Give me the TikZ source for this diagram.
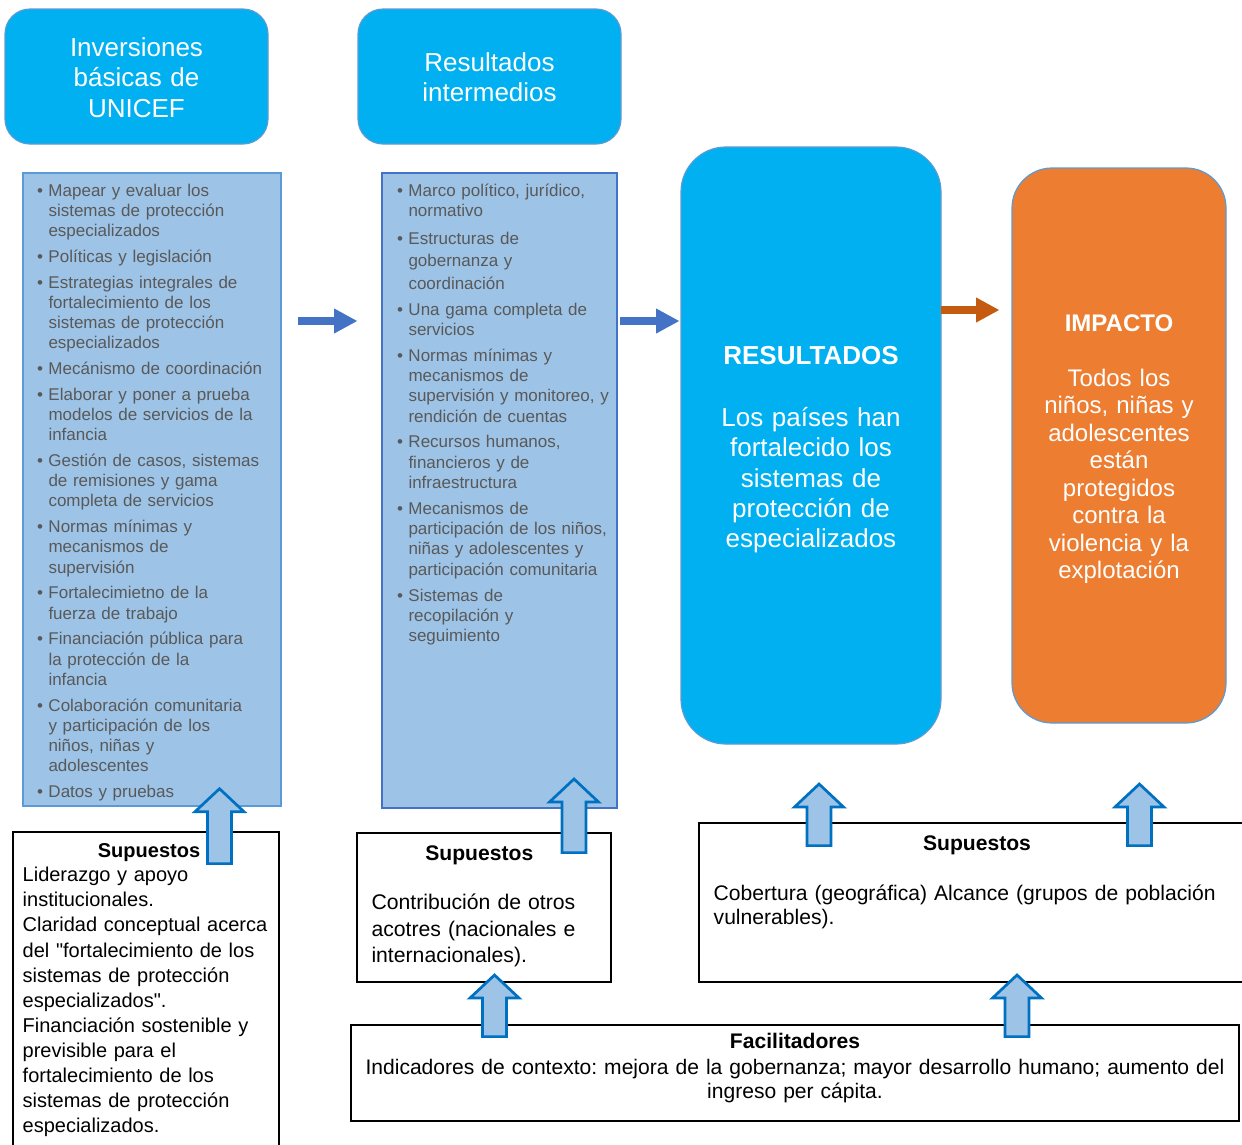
\documentclass[tikz,border=0pt]{standalone}
\usepackage{fontspec}
\setmainfont{Liberation Sans}[Ligatures=TeXOff]
\usetikzlibrary{arrows.meta,fit}
\definecolor{cyanbox}{HTML}{00B0F0}
\definecolor{boxedge}{HTML}{5B9BD5}
\definecolor{listfill}{HTML}{9DC3E6}
\definecolor{listedgeA}{HTML}{5B9BD5}
\definecolor{listedgeB}{HTML}{4472C4}
\definecolor{orangebox}{HTML}{ED7D31}
\definecolor{arrowblue}{HTML}{4472C4}
\definecolor{arroworange}{HTML}{C55A11}
\definecolor{blockedge}{HTML}{0070C0}
\definecolor{graytext}{HTML}{595959}
\frenchspacing
\newcommand\fs[2]{\fontsize{#1}{#2}\selectfont}
\newcommand\bitem[1]{\hangindent=11.5pt\hangafter=1\noindent\makebox[11.5pt][l]{\textbullet}#1\par}
\newcommand\blockarrow[3]{%
  \draw[blockarr] (#1,#2) -- (#1+24.5,#2+23) -- (#1+12,#2+23) -- (#1+12,#3)
    -- (#1-12,#3) -- (#1-12,#2+23) -- (#1-24.5,#2+23) -- cycle;}
\begin{document}
\begin{tikzpicture}[x=1pt,y=-1pt,
  cbox/.style={draw=boxedge, line width=1.2pt, fill=cyanbox, rounded corners=#1, inner sep=0pt},
  obox/.style={draw=boxedge, line width=1.2pt, fill=orangebox, rounded corners=#1, inner sep=0pt},
  listbox/.style={draw=#1, line width=2pt, fill=listfill, inner sep=0pt},
  blackbox/.style={draw=black, line width=2.2pt, fill=white, inner sep=0pt},
  whitetxt/.style={text=white, inner sep=0pt, align=center, anchor=base},
  listtxt/.style={text=graytext, inner sep=0pt, align=left, anchor=base west, font=\fs{17}{20.2}},
  bodytxt/.style={text=black, inner sep=0pt, align=left, anchor=base west},
  headtxt/.style={text=black, inner sep=0pt, anchor=base, font=\bfseries},
  rarrow/.style={draw=#1, line width=8pt, -{Triangle[length=23.5pt,width=23.5pt]}},
  blockarr/.style={draw=blockedge, fill=listfill, line width=2.7pt}
]
\useasboundingbox (0,0) rectangle (1242,1144);
\clip (0,0) rectangle (1242,1144);

% top headers
\node[cbox=25pt, fit={(5,9)(268,144)}] (inv) {};
\node[whitetxt, text width=250pt, font=\fs{26}{30.5}] (invt) at (136.5,56) {Inversiones\\básicas de\\UNICEF};
\node[cbox=25pt, fit={(358,9)(621,144)}] (resi) {};
\node[whitetxt, text width=250pt, font=\fs{26}{30.5}] (resit) at (489.5,71) {Resultados\\intermedios};

% list 1
\node[listbox=listedgeA, fit={(23,173)(281,806)}] (lista) {};
\node[listtxt, text width=250pt] (listat) at (36.8,196) {\setlength{\parskip}{5.6pt}%
\bitem{Mapear y evaluar los\newline sistemas de protección\newline especializados}
\bitem{Políticas y legislación}
\bitem{Estrategias integrales de\newline fortalecimiento de los\newline sistemas de protección\newline especializados}
\bitem{Mecánismo de coordinación}
\bitem{Elaborar y poner a prueba\newline modelos de servicios de la\newline infancia}
\bitem{Gestión de casos, sistemas\newline de remisiones y gama\newline completa de servicios}
\bitem{Normas mínimas y\newline mecanismos de\newline supervisión}
\bitem{Fortalecimietno de la\newline fuerza de trabajo}
\bitem{Financiación pública para\newline la protección de la\newline infancia}
\bitem{Colaboración comunitaria\newline y participación de los\newline niños, niñas y\newline adolescentes}
\bitem{Datos y pruebas}};

% list 2
\node[listbox=listedgeB, fit={(382,173)(617,808)}] (listb) {};
\node[listtxt, text width=225pt, font=\fs{17}{20.3}] (listbt) at (396.8,196) {\setlength{\parskip}{5.5pt}%
\bitem{Marco político, jurídico,\newline normativo}
{\fs{17}{22.5}\bitem{Estructuras de\newline gobernanza y\newline coordinación}}
\bitem{Una gama completa de\newline servicios}
\bitem{Normas mínimas y\newline mecanismos de\newline supervisión y monitoreo, y\newline rendición de cuentas}
\bitem{Recursos humanos,\newline financieros y de\newline infraestructura}
\bitem{Mecanismos de\newline participación de los niños,\newline niñas y adolescentes y\newline participación comunitaria}
\bitem{Sistemas de\newline recopilación y\newline seguimiento}};

% RESULTADOS
\node[cbox=45pt, fit={(681,147)(941,744)}] (res) {};
\node[whitetxt, font=\bfseries\fs{26}{30.5}] (rest) at (811,364.5) {RESULTADOS};
\node[whitetxt, text width=250pt, font=\fs{26}{30.3}] (resb) at (811,426.5) {Los países han\\fortalecido los\\sistemas de\\protección de\\especializados};

% IMPACTO
\node[obox=40pt, fit={(1012,168)(1226,723)}] (imp) {};
\node[whitetxt, font=\bfseries\fs{24}{27.5}] (impt) at (1119,331) {IMPACTO};
\node[whitetxt, text width=210pt, font=\fs{24}{27.5}] (impb) at (1119,386) {Todos los\\niños, niñas y\\adolescentes\\están\\protegidos\\contra la\\violencia y la\\explotación};

% Supuestos 1
\node[blackbox, fit={(13,832)(279,1160)}] (sup1) {};
\node[headtxt, font=\bfseries\fs{20}{25}] (sup1h) at (149,857.3) {Supuestos};
\node[bodytxt, text width=260pt, font=\fs{20}{25.1}] (sup1b) at (22.5,881.7) {Liderazgo y apoyo\\institucionales.\\Claridad conceptual acerca\\del "fortalecimiento de los\\sistemas de protección\\especializados".\\Financiación sostenible y\\previsible para el\\fortalecimiento de los\\sistemas de protección\\especializados.};

% Supuestos 2
\node[blackbox, fit={(357,833)(611,982)}] (sup2) {};
\node[headtxt, font=\bfseries\fs{21.1}{26}] (sup2h) at (479.3,860.7) {Supuestos};
\node[bodytxt, text width=240pt, font=\fs{21.2}{26.7}] (sup2b) at (371.3,909.3) {Contribución de otros\\acotres (nacionales e\\internacionales).};

% Supuestos 3
\node[blackbox, fit={(699,823)(1260,982)}] (sup3) {};
\node[headtxt, font=\bfseries\fs{21.1}{26}] (sup3h) at (977,850.5) {Supuestos};
\node[bodytxt, text width=520pt, font=\fs{21.1}{24}] (sup3b) at (713.5,900.5) {Cobertura (geográfica) Alcance (grupos de población\\vulnerables).};

% Facilitadores
\node[blackbox, fit={(351,1025)(1239,1121)}] (fac) {};
\node[headtxt, font=\bfseries\fs{21.1}{26}] (fach) at (795,1048) {Facilitadores};
\node[whitetxt, text=black, text width=880pt, font=\fs{21.05}{24.5}] (facb) at (795,1074) {Indicadores de contexto: mejora de la gobernanza; mayor desarrollo humano; aumento del\\ingreso per cápita.};

% horizontal arrows
\coordinate (a1s) at (298,321);
\coordinate (a1e) at (357.5,321);
\coordinate (a2s) at (620,321);
\coordinate (a2e) at (679.5,321);
\coordinate (a3s) at (941,310);
\coordinate (a3e) at (999.5,310);
\draw[rarrow=arrowblue] (a1s) -- (a1e);
\draw[rarrow=arrowblue] (a2s) -- (a2e);
\draw[rarrow=arroworange] (a3s) -- (a3e);

% block up arrows
\blockarrow{219.5}{788.7}{863.6}
\blockarrow{574}{779}{852.6}
\blockarrow{494.5}{975}{1036.6}
\blockarrow{819}{784}{845.6}
\blockarrow{1139.5}{784}{845.6}
\blockarrow{1017}{975}{1036.6}
\end{tikzpicture}
\end{document}
